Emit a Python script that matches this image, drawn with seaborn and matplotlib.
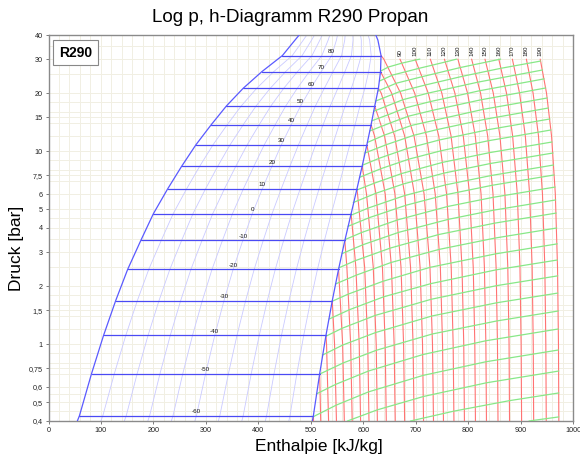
import numpy as np
import pandas as pd
import matplotlib
matplotlib.use("Agg")
import matplotlib.pyplot as plt
import seaborn as sns
from matplotlib.ticker import FixedLocator, NullFormatter

N = np.nan

# Nassdampfgebiet: Sättigungsdruck [bar], Flüssigkeit / Dampf h [kJ/kg]
DOME_P = [0.40, 0.426, 0.703, 1.111, 1.679, 2.444, 3.448, 4.745, 6.366, 8.364,
          10.79, 13.69, 17.13, 21.16, 25.86, 31.31, 37.65, 40.0]
DOME_HL = [55, 59, 82, 105, 128, 151, 176, 200, 227, 254,
           281, 310, 339, 371, 407, 446, 470, 478]
DOME_HV = [503, 505, 517, 529, 541, 553, 565, 577, 588, 598,
           607, 615, 622, 629, 633, 634, 628, 624]
# Isothermen im Nassdampf (Index 1..15 der Arrays oben)
ISO_T_DOME = [-60, -50, -40, -30, -20, -10, 0, 10, 20, 30, 40, 50, 60, 70, 80]
QUALITY = [0.1, 0.2, 0.3, 0.4, 0.5, 0.6, 0.7, 0.8, 0.9]

# Isothermen im überhitzten Gebiet: h bei den Druckstufen
P_LEVELS = [0.4, 1, 2.5, 6, 12, 20, 30]
ISO_T_SH = [-60, -50, -40, -30, -20, -10, 0, 10, 20, 30, 40, 50, 60,
            70, 80, 90, 100, 110, 120, 130, 140, 150, 160, 170, 180, 190]
ISO_H_SH = [
    [505, N, N, N, N, N, N],
    [519, N, N, N, N, N, N],
    [534, 530.1, N, N, N, N, N],
    [549, 545.4, N, N, N, N, N],
    [564, 560.8, N, N, N, N, N],
    [579, 576.1, 568.9, N, N, N, N],
    [595, 592.4, 586.0, N, N, N, N],
    [611, 608.7, 602.8, 589.2, N, N, N],
    [627, 624.8, 619.2, 606.3, N, N, N],
    [644, 641.9, 636.7, 624.4, N, N, N],
    [661, 659.0, 653.9, 642.0, 621.6, N, N],
    [679, 677.0, 672.1, 660.5, 640.7, N, N],
    [697, 695.1, 690.3, 679.1, 659.9, 634.3, N],
    [715, 713.1, 708.5, 697.6, 679.0, 654.2, N],
    [734, 732.1, 727.3, 716.1, 696.9, 671.3, 639.3],
    [753, 751.3, 747.1, 737.3, 720.5, 698.1, 670.1],
    [773, 771.5, 767.8, 759.0, 744.0, 724.0, 699.0],
    [793, 791.7, 788.4, 780.7, 767.5, 749.9, 727.9],
    [814, 812.8, 809.8, 802.8, 790.8, 774.8, 754.8],
    [835, 833.9, 831.1, 824.7, 813.7, 798.9, 780.5],
    [857, 856.0, 853.4, 847.5, 837.3, 823.7, 806.7],
    [879, 878.1, 875.7, 870.2, 860.7, 848.0, 832.2],
    [902, 901.1, 898.9, 893.8, 884.9, 873.2, 858.5],
    [925, 924.2, 922.1, 917.3, 909.1, 898.1, 884.4],
    [949, 948.2, 946.3, 941.8, 934.2, 923.9, 911.1],
    [973, 972.3, 970.5, 966.3, 959.1, 949.5, 937.5],
]

# Isochoren (grün): Punkte h [kJ/kg] und p [bar]
ISOCHORE_H = [
    [633, 648, 674, 700, 708],
    [631, 656, 707, 757, 778],
    [628, 663, 713, 786, 862],
    [624, 670, 719, 791, 863, 938],
    [620, 644, 676, 724, 819, 942],
    [617, 649, 682, 729, 823, 945],
    [613, 653, 687, 733, 826, 948],
    [608, 640, 692, 738, 830, 951],
    [603, 645, 697, 742, 833, 953],
    [599, 631, 684, 745, 836, 956],
    [593, 635, 688, 749, 838, 958],
    [587, 622, 674, 752, 841, 960],
    [581, 624, 677, 755, 843, 962],
    [576, 610, 679, 757, 845, 963],
    [571, 612, 682, 759, 846, 964],
    [566, 598, 666, 761, 848, 966],
    [560, 600, 668, 763, 849, 967],
    [554, 585, 652, 744, 851, 968],
    [547, 587, 653, 745, 852, 969],
    [541, 572, 638, 727, 853, 970],
    [535, 574, 639, 729, 854, 970],
    [529, 560, 623, 730, 854, 971],
    [523, 561, 624, 731, 855, 971],
    [517, 562, 625, 732, 855, 972],
    [511, 548, 610, 714, 834, 972],
    [504, 549, 610, 714, 834, 972],
    [570, 627, 715, 835, 973],
    [690, 773, 879, 973],
    [916, 973],
]
ISOCHORE_P = [
    [26.0, 27.3, 28.6, 29.7, 30.0],
    [23.1, 24.8, 26.9, 29.0, 30.0],
    [20.5, 22.5, 24.35, 27.16, 30.0],
    [18.2, 20.4, 22.05, 24.5, 26.9, 29.3],
    [16.1, 17.1, 18.5, 20.0, 22.8, 26.35],
    [14.4, 15.5, 16.8, 18.1, 20.6, 23.7],
    [12.75, 14.06, 15.2, 16.3, 18.5, 21.26],
    [11.1, 12.1, 13.6, 14.5, 16.5, 18.87],
    [9.78, 10.83, 12.1, 12.96, 14.65, 16.74],
    [8.47, 9.2, 10.33, 11.43, 12.89, 14.69],
    [7.32, 8.14, 9.11, 10.06, 11.32, 12.88],
    [6.28, 6.84, 7.67, 8.76, 9.83, 11.16],
    [5.42, 6.05, 6.77, 7.71, 8.64, 9.79],
    [4.65, 5.08, 5.89, 6.69, 7.49, 8.48],
    [4.08, 4.53, 5.25, 5.96, 6.66, 7.53],
    [3.49, 3.80, 4.41, 5.17, 5.77, 6.52],
    [2.95, 3.28, 3.80, 4.44, 4.95, 5.59],
    [2.49, 2.71, 3.15, 3.70, 4.24, 4.78],
    [2.05, 2.28, 2.65, 3.10, 3.55, 4.0],
    [1.67, 1.82, 2.12, 2.50, 2.94, 3.31],
    [1.35, 1.51, 1.76, 2.06, 2.43, 2.73],
    [1.10, 1.21, 1.41, 1.71, 2.01, 2.26],
    [0.88, 0.99, 1.15, 1.40, 1.64, 1.84],
    [0.70, 0.80, 0.93, 1.13, 1.32, 1.486],
    [0.553, 0.62, 0.726, 0.884, 1.042, 1.199],
    [0.42, 0.484, 0.566, 0.689, 0.811, 0.933],
    [0.40, 0.457, 0.536, 0.631, 0.726],
    [0.40, 0.45, 0.51, 0.559],
    [0.40, 0.42],
]

Y_TICKS = [0.4, 0.5, 0.6, 0.75, 1, 1.5, 2, 3, 4, 5, 6, 7.5, 10, 15, 20, 30, 40]
Y_TICK_LABELS = ["0,4", "0,5", "0,6", "0,75", "1", "1,5", "2", "3", "4", "5",
                 "6", "7,5", "10", "15", "20", "30", "40"]
Y_GRID = [0.45, 0.55, 0.7, 0.8, 0.9, 1.2, 1.4, 1.6, 1.8, 2.5, 3.5, 4.5,
          7, 8, 9, 12, 14, 16, 18, 25, 35]
X_TICKS = [0, 100, 200, 300, 400, 500, 600, 700, 800, 900, 1000]


def to_frame(lines):
    """Liste von (h, p)-Folgen in eine lange Tabelle umwandeln."""
    parts = []
    for i, (hs, ps) in enumerate(lines):
        parts.append(pd.DataFrame({"h": hs, "p": ps, "line": i}))
    df = pd.concat(parts, ignore_index=True)
    return df.dropna()


def draw(ax, lines, color, lw, z):
    df = to_frame(lines)
    sns.lineplot(data=df, x="h", y="p", units="line", estimator=None,
                 sort=False, color=color, linewidth=lw, ax=ax,
                 legend=False, zorder=z)


sns.set_theme(style="white")
plt.rcParams["font.family"] = ["Liberation Sans", "DejaVu Sans"]
plt.rcParams["text.color"] = "black"

fig = plt.figure(figsize=(5.8, 4.59), dpi=100)
ax = fig.add_axes([48.5 / 580, 1 - 421 / 459, (573 - 48.5) / 580, (421 - 35) / 459])
ax.set_yscale("log")

hl = np.array(DOME_HL, dtype=float)
hv = np.array(DOME_HV, dtype=float)

# Dampfgehalt-Linien
quality_lines = [(hl + q * (hv - hl), DOME_P) for q in QUALITY]
draw(ax, quality_lines, "#cacaff", 0.6, 2)

# Isothermen überhitzt (rot)
red_lines = []
for i, t in enumerate(ISO_T_SH):
    hs = list(ISO_H_SH[i])
    ps = list(P_LEVELS)
    if t <= 80:
        k = ISO_T_DOME.index(t) + 1
        hs.append(DOME_HV[k])
        ps.append(DOME_P[k])
    red_lines.append((hs, ps))
draw(ax, red_lines, "#ff7373", 0.8, 3)

# Isochoren (grün)
green_lines = list(zip(ISOCHORE_H, ISOCHORE_P))
draw(ax, green_lines, "#88e888", 0.9, 3)

# Nassdampf-Isothermen
dome_iso = []
for i, t in enumerate(ISO_T_DOME):
    k = i + 1
    dome_iso.append(([DOME_HL[k], DOME_HV[k]], [DOME_P[k], DOME_P[k]]))
draw(ax, dome_iso, "#4a4af4", 0.9, 4)

# Grenzkurven
draw(ax, [(DOME_HL, DOME_P), (DOME_HV, DOME_P)], "#5a5aff", 0.9, 5)

for i, t in enumerate(ISO_T_DOME):
    k = i + 1
    ax.annotate(str(t), ((DOME_HL[k] + DOME_HV[k]) / 2, DOME_P[k]),
                xytext=(0, 1.2), textcoords="offset points",
                ha="center", va="bottom", fontsize=4.5, color="#111111", zorder=6)

for i, t in enumerate(ISO_T_SH):
    if t >= 90:
        ax.annotate(str(t), (ISO_H_SH[i][-1], P_LEVELS[-1]),
                    xytext=(0, 2), textcoords="offset points", rotation=90,
                    ha="center", va="bottom", fontsize=4.5, color="#111111", zorder=6)

ax.set_xlim(0, 1000)
ax.set_ylim(0.4, 40)
ax.set_xlabel("")
ax.set_ylabel("")

ax.set_xticks(X_TICKS)
ax.set_xticklabels([str(x) for x in X_TICKS], fontsize=5.2, color="#222222")
ax.xaxis.set_minor_locator(FixedLocator(list(range(20, 1000, 20))))
ax.set_yticks(Y_TICKS)
ax.set_yticklabels(Y_TICK_LABELS, fontsize=5.2, color="#222222")
ax.yaxis.set_minor_locator(FixedLocator(Y_GRID))
ax.yaxis.set_minor_formatter(NullFormatter())
ax.tick_params(which="major", length=2.5, width=0.6, color="#666666", pad=1.5,
               bottom=True, left=True)
ax.tick_params(which="minor", length=0)
ax.grid(True, which="both", color="#f1efe3", linewidth=0.7, zorder=0)
ax.set_axisbelow(True)
for side, sp in ax.spines.items():
    sp.set_color("#8a8a8a")
    sp.set_linewidth(1.0)

ax.text(0.02, 0.972, "R290", transform=ax.transAxes, ha="left", va="top",
        fontsize=10, fontweight="bold", color="black", zorder=7,
        bbox=dict(boxstyle="square,pad=0.4", facecolor="white", edgecolor="#888888", linewidth=0.8))

fig.text(0.5, 1 - 18 / 459, "Log p, h-Diagramm R290 Propan", ha="center", va="center",
         fontsize=13.5, color="black")
fig.text(17 / 580, 1 - 248 / 459, "Druck [bar]", ha="center", va="center",
         rotation=90, fontsize=12.5, color="black")
fig.text(319 / 580, 1 - 447 / 459, "Enthalpie [kJ/kg]", ha="center", va="center",
         fontsize=12.5, color="black")

fig.savefig("out.png", dpi=100)
